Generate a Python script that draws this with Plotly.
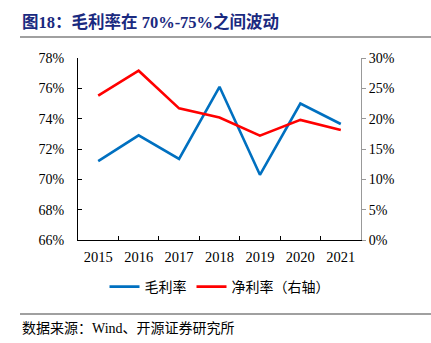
import plotly.graph_objects as go

years = ["2015", "2016", "2017", "2018", "2019", "2020", "2021"]
gross_margin = [71.2, 72.9, 71.35, 76.1, 70.3, 75.0, 73.65]
net_margin = [23.8, 27.9, 21.7, 20.2, 17.2, 19.8, 18.15]

left_ticks = [66, 68, 70, 72, 74, 76, 78]
right_ticks = [0, 5, 10, 15, 20, 25, 30]

FONT = "Liberation Serif, Times New Roman, Noto Sans CJK SC, serif"
L, R, T, B = 78, 70, 58, 103
W, H = 431, 343
pw, ph = W - L - R, H - T - B

def px(x):
    return (x - L) / pw

def py(y):
    return (H - B - y) / ph

fig = go.Figure()
fig.add_trace(go.Scatter(x=years, y=gross_margin, name="毛利率", mode="lines",
                         line=dict(color="#0070C0", width=2.6), yaxis="y"))
fig.add_trace(go.Scatter(x=years, y=net_margin, name="净利率（右轴）", mode="lines",
                         line=dict(color="#FF0000", width=2.6), yaxis="y2"))

fig.update_layout(
    width=W, height=H,
    margin=dict(l=L, r=R, t=T, b=B),
    paper_bgcolor="white", plot_bgcolor="white",
    font=dict(family=FONT, size=13, color="#000"),
    showlegend=True,
    legend=dict(orientation="h", x=0.5, xanchor="center", y=py(287), yanchor="middle",
                font=dict(size=14, family="Noto Sans CJK SC"), itemwidth=30,
                bgcolor="rgba(0,0,0,0)", tracegroupgap=0),
    xaxis=dict(type="category", showline=True, linecolor="#000", linewidth=1,
               ticks="inside", ticklen=4, tickcolor="#000", tickson="boundaries",
               showgrid=False, zeroline=False, range=[-0.5, 6.5],
               ticklabelstandoff=4,
               tickfont=dict(size=14.5, family=FONT)),
    yaxis=dict(range=[66, 78], tickvals=left_ticks,
               ticktext=[f"{v}%" for v in left_ticks],
               showline=True, linecolor="#000", linewidth=1,
               ticks="inside", ticklen=4, tickcolor="#000",
               showgrid=False, zeroline=False, ticklabelstandoff=10,
               tickfont=dict(size=14, family=FONT)),
    yaxis2=dict(range=[0, 30], tickvals=right_ticks,
                ticktext=[f"{v}%" for v in right_ticks],
                overlaying="y", side="right",
                showline=True, linecolor="#999", linewidth=1,
                ticks="outside", ticklen=4, tickcolor="#999",
                showgrid=False, zeroline=False,
                tickfont=dict(size=14, family=FONT)),
)

fig.add_annotation(text="<b>图18：毛利率在 70%-75%之间波动</b>", xref="paper", yref="paper",
                   x=px(20), y=py(22), xanchor="left", yanchor="middle", showarrow=False,
                   font=dict(size=16.5, color="#1A2A80", family="Liberation Serif, Noto Sans CJK SC"))
fig.add_annotation(text="数据来源：Wind、开源证券研究所", xref="paper", yref="paper",
                   x=px(20), y=py(328), xanchor="left", yanchor="middle", showarrow=False,
                   font=dict(size=14, color="#000", family="Liberation Serif, Noto Sans CJK SC"))

fig.add_shape(type="line", xref="paper", yref="paper", x0=px(20), x1=px(431),
              y0=py(37), y1=py(37), line=dict(color="#808080", width=1.5))
fig.add_shape(type="line", xref="paper", yref="paper", x0=px(20), x1=px(431),
              y0=py(314), y1=py(314), line=dict(color="#808080", width=1.5))

fig.write_html("out.html")
